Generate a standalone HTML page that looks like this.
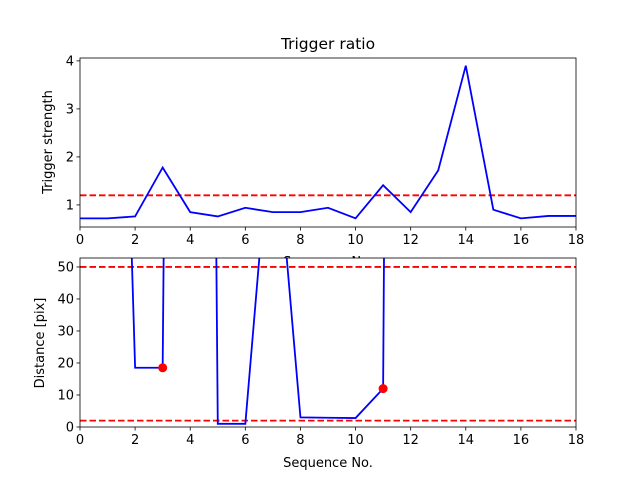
<!DOCTYPE html>
<html><head><meta charset="utf-8"><style>
body{margin:0;background:#fff}
svg text{font-family:"DejaVu Sans","Liberation Sans",sans-serif;fill:#000}
</style></head><body>
<svg id="c" width="640" height="480" xmlns="http://www.w3.org/2000/svg"></svg>
<script>
const seq=[0,1,2,3,4,5,6,7,8,9,10,11,12,13,14,15,16,17,18];
const strength=[0.72,0.72,0.76,1.78,0.85,0.76,0.94,0.85,0.85,0.94,0.72,1.41,0.85,1.72,3.9,0.9,0.72,0.77,0.77];
const distance=[400,304,18.5,18.5,1000,1,1,103,3,2.9,2.8,12,1300,1300,1300,1300,1300,1300,1300];
const markIdx=[3,11];
const strengthThreshold=[1.2];
const distThresholds=[50,2];
const xTicks=[0,2,4,6,8,10,12,14,16,18];
const yTicksTop=[1,2,3,4];
const yTicksBot=[0,10,20,30,40,50];
const svg=document.getElementById('c');const NS='http://www.w3.org/2000/svg';
function mk(t,a,p){const e=document.createElementNS(NS,t);for(const k in a)e.setAttribute(k,a[k]);(p||svg).appendChild(e);return e;}
const L=80,R=576;
const sx=v=>L+(v-0)/(18-0)*(R-L);
function panel(top,bot,y0,y1,yt,name){
  const sy=v=>bot-(v-y0)/(y1-y0)*(bot-top);
  const g=mk('g',{});
  mk('rect',{x:L,y:top,width:R-L,height:bot-top,fill:'#fff'},g);
  const cid='clip'+name;const cp=mk('clipPath',{id:cid},g);mk('rect',{x:L,y:top,width:R-L,height:bot-top},cp);
  const pg=mk('g',{'clip-path':'url(#'+cid+')'},g);
  xTicks.forEach(t=>{mk('line',{x1:sx(t),x2:sx(t),y1:bot,y2:bot+3.5,stroke:'#000','stroke-width':0.8},g);
    const tx=mk('text',{x:sx(t),y:bot+17,'font-size':13,'text-anchor':'middle'},g);tx.textContent=t;});
  yt.forEach(t=>{mk('line',{x1:L-3.5,x2:L,y1:sy(t),y2:sy(t),stroke:'#000','stroke-width':0.8},g);
    const tx=mk('text',{x:L-6,y:sy(t)+4.5,'font-size':13,'text-anchor':'end'},g);tx.textContent=t;});
  return {sy,pg,g};
}
// top
const a=panel(58,227,0.54,4.06,yTicksTop,'top-panel');
const xl1=mk('text',{x:328,y:266,'font-size':13,'text-anchor':'middle'});xl1.textContent='Sequence No.';

strengthThreshold.forEach(v=>{const l=mk('line',{x1:L,x2:R,y1:a.sy(v),y2:a.sy(v),stroke:'#f00','stroke-width':1.8,'stroke-dasharray':'6.5,3'},a.pg);
  });
const p1=mk('polyline',{points:seq.map((s,i)=>sx(s)+','+a.sy(strength[i])).join(' '),fill:'none',stroke:'#00f','stroke-width':1.8},a.pg);

mk('rect',{x:L,y:58,width:R-L,height:169,fill:'none',stroke:'#000','stroke-width':0.8},a.g);
const tt=mk('text',{x:328,y:49,'font-size':15.5,'text-anchor':'middle'});tt.textContent='Trigger ratio';

const yl1=mk('text',{x:0,y:0,'font-size':13,'text-anchor':'middle',transform:'translate(52,142) rotate(-90)'});yl1.textContent='Trigger strength';

// bottom
const b=panel(258,427,0,52.8,yTicksBot,'bottom-panel');
distThresholds.forEach(v=>{const l=mk('line',{x1:L,x2:R,y1:b.sy(v),y2:b.sy(v),stroke:'#f00','stroke-width':1.8,'stroke-dasharray':'6.5,3'},b.pg);
  });
const p2=mk('polyline',{points:seq.map((s,i)=>sx(s)+','+b.sy(distance[i])).join(' '),fill:'none',stroke:'#00f','stroke-width':1.8},b.pg);

markIdx.forEach(i=>{const c=mk('circle',{cx:sx(seq[i]),cy:b.sy(distance[i]),r:4.5,fill:'#f00'},b.pg);
  });
mk('rect',{x:L,y:258,width:R-L,height:169,fill:'none',stroke:'#000','stroke-width':0.8},b.g);
const xl2=mk('text',{x:328,y:467,'font-size':13,'text-anchor':'middle'});xl2.textContent='Sequence No.';

const yl2=mk('text',{x:0,y:0,'font-size':13,'text-anchor':'middle',transform:'translate(44,343) rotate(-90)'});yl2.textContent='Distance [pix]';

</script>
</body></html>
